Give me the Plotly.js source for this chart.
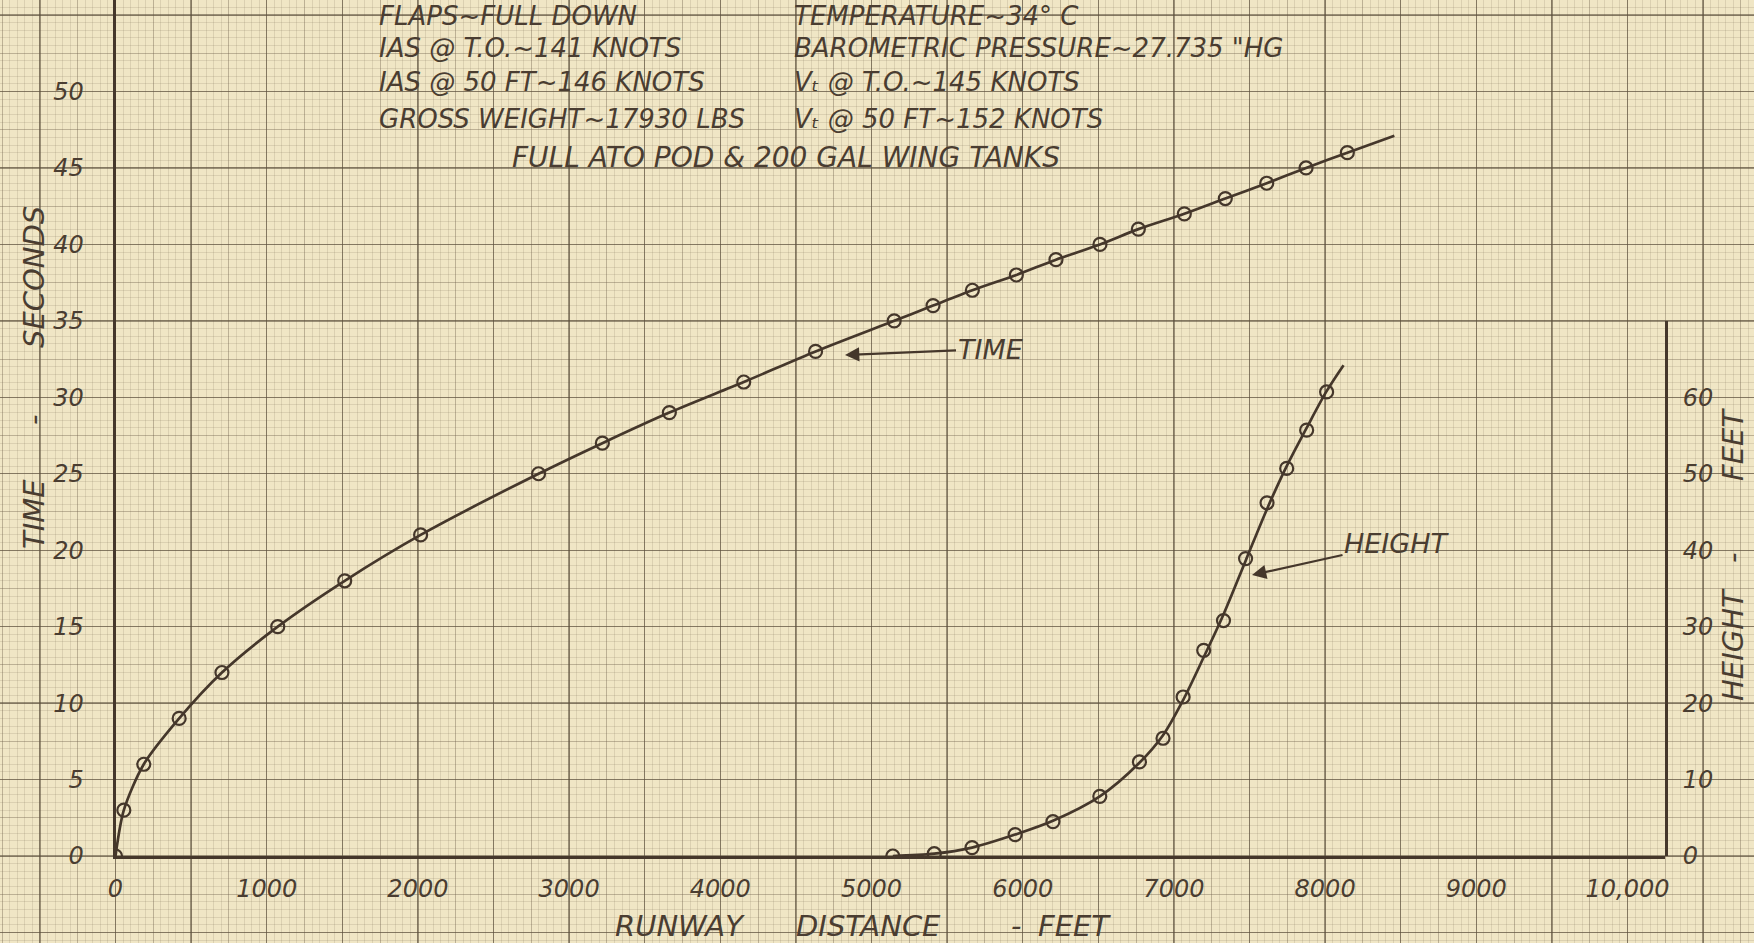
<!DOCTYPE html>
<html>
<head>
<meta charset="utf-8">
<script src="https://cdn.plot.ly/plotly-3.0.1.min.js"></script>
<style>html,body{margin:0;padding:0;background:#efe5c3;}</style>
</head>
<body>
<div id="chart" style="width:1754px;height:943px;"></div>
<script>
// ---- data ----
// plotted time points (runway distance ft, time s)
const timeDist = [0, 55, 187, 421, 704, 1073, 1516, 2018, 2798, 3220, 3663, 4155, 4630, 5150, 5407, 5667, 5958, 6220, 6511, 6765, 7069, 7340, 7614, 7874, 8147];
const timeSec  = [0, 3, 6, 9, 12, 15, 18, 21, 25, 27, 29, 31, 33, 35, 36, 37, 38, 39, 40, 41, 42, 43, 44, 45, 46];
// the drawn time curve runs a little past the last point
const timeCurveEndDist = [8458];
const timeCurveEndSec  = [47.1];

// plotted height points (runway distance ft, height ft)
const heightDist = [5141, 5415, 5665, 5950, 6200, 6510, 6772, 6928, 7061, 7197, 7328, 7474, 7616, 7746, 7878, 8010];
const heightFt   = [0, 0.3, 1.1, 2.8, 4.5, 7.8, 12.3, 15.4, 20.8, 26.9, 30.8, 38.9, 46.2, 50.7, 55.7, 60.7];
// the hand-faired height curve
const heightCurveDist = [5141, 5415, 5665, 5950, 6200, 6510, 6772, 6928, 7061, 7197, 7328, 7474, 7616, 7746, 7878, 8010, 8122];
const heightCurveFt   = [0, 0.3, 1.1, 2.8, 4.6, 7.8, 12.2, 15.8, 20.4, 26.0, 31.6, 38.6, 45.4, 51.0, 56.0, 60.8, 64.2];

const xTickVals = [0, 1000, 2000, 3000, 4000, 5000, 6000, 7000, 8000, 9000, 10000];
const xTickText = ['0', '1000', '2000', '3000', '4000', '5000', '6000', '7000', '8000', '9000', '10,000'];
const timeTicks = [0, 5, 10, 15, 20, 25, 30, 35, 40, 45, 50];
const heightTicks = [0, 10, 20, 30, 40, 50, 60];

const notesLeft  = ['FLAPS~FULL DOWN', 'IAS @ T.O.~141 KNOTS', 'IAS @ 50 FT~146 KNOTS', 'GROSS WEIGHT~17930 LBS'];
const notesRight = ['TEMPERATURE~34° C', 'BAROMETRIC PRESSURE~27.735 "HG', 'V\u209C @ T.O.~145 KNOTS', 'V\u209C @ 50 FT~152 KNOTS'];
const notesBottom = 'FULL ATO POD & 200 GAL WING TANKS';

// ---- styling / geometry ----
const W = 1754, H = 943;
const INK = '#45372b';
const TXT = '#4a3d31';
const PAPER = '#f0e6c5';
const FONT = 'DejaVu Sans, Liberation Sans, sans-serif';
const px = v => v / W;
const py = v => 1 - v / H;

// pixel geometry of the plotting frame
const X0 = 115.5, XR = 1665, Y0 = 856, YTOP = 0, Y2TOP = 321;
const PX_PER_FT = 0.1512, PX_PER_S = 15.29, PX_PER_HFT = PX_PER_S / 2;

const fine = 'rgba(130,115,90,0.19)';
const medium = 'rgba(110,96,74,0.40)';
const heavy = 'rgba(92,80,60,0.58)';

const bgXRange = [-X0 / PX_PER_FT, (W - X0) / PX_PER_FT];
const bgYRange = [(Y0 - H) / PX_PER_S, Y0 / PX_PER_S];

const traces = [
  {x: [], y: [], xaxis: 'x', yaxis: 'y', type: 'scatter', hoverinfo: 'skip'},
  {x: [], y: [], xaxis: 'x2', yaxis: 'y2', type: 'scatter', hoverinfo: 'skip'},
  // time curve
  {x: timeDist.concat(timeCurveEndDist), y: timeSec.concat(timeCurveEndSec), xaxis: 'x3', yaxis: 'y3',
   type: 'scatter', mode: 'lines', line: {color: INK, width: 2.7, shape: 'spline', smoothing: 0.8}, hoverinfo: 'skip'},
  {x: timeDist, y: timeSec, xaxis: 'x3', yaxis: 'y3', type: 'scatter', mode: 'markers',
   marker: {symbol: 'circle-open', size: 13, color: INK, line: {width: 2.2, color: INK}}},
  // height curve
  {x: heightCurveDist, y: heightCurveFt, xaxis: 'x3', yaxis: 'y4',
   type: 'scatter', mode: 'lines', line: {color: INK, width: 2.7, shape: 'spline', smoothing: 0.9}, hoverinfo: 'skip'},
  {x: heightDist, y: heightFt, xaxis: 'x3', yaxis: 'y4', type: 'scatter', mode: 'markers',
   marker: {symbol: 'circle-open', size: 13, color: INK, line: {width: 2.2, color: INK}}}
];

const tickFont = {family: FONT, size: 24, color: TXT, style: 'italic'};

const layout = {
  width: W, height: H,
  margin: {l: 0, r: 0, t: 0, b: 0, pad: 0},
  paper_bgcolor: PAPER, plot_bgcolor: 'rgba(0,0,0,0)',
  showlegend: false,
  // graph paper (fine + medium rulings)
  xaxis: {domain: [0, 1], range: bgXRange, anchor: 'y', showticklabels: false, ticks: '', zeroline: false,
          showgrid: true, tick0: 0, dtick: 250, gridcolor: medium, gridwidth: 1,
          minor: {tick0: 0, dtick: 50, showgrid: true, gridcolor: fine, gridwidth: 1}},
  yaxis: {domain: [0, 1], range: bgYRange, anchor: 'x', showticklabels: false, ticks: '', zeroline: false,
          showgrid: true, tick0: 0, dtick: 2.5, gridcolor: medium, gridwidth: 1,
          minor: {tick0: 0, dtick: 0.5, showgrid: true, gridcolor: fine, gridwidth: 1}},
  // graph paper (heavy rulings)
  xaxis2: {overlaying: 'x', range: bgXRange, anchor: 'y2', showticklabels: false, ticks: '', zeroline: false,
           showgrid: true, tick0: 0, dtick: 500, gridcolor: heavy, gridwidth: 1.3},
  yaxis2: {overlaying: 'y', range: bgYRange, anchor: 'x2', showticklabels: false, ticks: '', zeroline: false,
           showgrid: true, tick0: 0, dtick: 5, gridcolor: heavy, gridwidth: 1.3},
  // data frame
  xaxis3: {domain: [px(X0), px(XR)], range: [0, (XR - X0) / PX_PER_FT], anchor: 'y3',
           showgrid: false, zeroline: false, showline: true, linecolor: INK, linewidth: 3,
           tickmode: 'array', tickvals: xTickVals, ticktext: xTickText, ticks: '',
           ticklabelstandoff: 9, tickfont: tickFont},
  yaxis3: {domain: [py(Y0), py(YTOP)], range: [0, (Y0 - YTOP) / PX_PER_S], anchor: 'x3',
           showgrid: false, zeroline: false, showline: true, linecolor: INK, linewidth: 3,
           tickmode: 'array', tickvals: timeTicks, ticks: '', ticklabelstandoff: 24, tickfont: tickFont},
  yaxis4: {domain: [py(Y0), py(Y2TOP)], range: [0, (Y0 - Y2TOP) / PX_PER_HFT], anchor: 'x3', side: 'right',
           showgrid: false, zeroline: false, showline: true, linecolor: INK, linewidth: 3,
           tickmode: 'array', tickvals: heightTicks, ticks: '', ticklabelstandoff: 10, tickfont: tickFont},
  annotations: []
};

const noteFont = {family: FONT, size: 26, color: TXT, style: 'italic'};
const lineY = [16, 48, 82, 119];
notesLeft.forEach((t, i) => layout.annotations.push({text: t, xref: 'paper', yref: 'paper', x: px(377), y: py(lineY[i]),
  xanchor: 'left', yanchor: 'middle', showarrow: false, font: noteFont}));
notesRight.forEach((t, i) => layout.annotations.push({text: t, xref: 'paper', yref: 'paper', x: px(792), y: py(lineY[i]),
  xanchor: 'left', yanchor: 'middle', showarrow: false, font: noteFont}));
layout.annotations.push({text: notesBottom, xref: 'paper', yref: 'paper', x: px(786), y: py(157),
  xanchor: 'center', yanchor: 'middle', showarrow: false, font: {family: FONT, size: 28, color: TXT, style: 'italic'}});

const titleFont = {family: FONT, size: 29, color: TXT, style: 'italic'};
function label(t, x, y, angle) {
  layout.annotations.push({text: t, xref: 'paper', yref: 'paper', x: px(x), y: py(y), xanchor: 'center', yanchor: 'middle',
    showarrow: false, textangle: angle || 0, font: titleFont});
}
// left axis title
label('TIME', 34, 514, -90); label('-', 34, 420, -90); label('SECONDS', 34, 277, -90);
// right axis title
label('HEIGHT', 1733, 645, -90); label('-', 1733, 558, -90); label('FEET', 1733, 445, -90);
// bottom axis title
label('RUNWAY', 680, 926); label('DISTANCE', 868, 926); label('-', 1016, 926); label('FEET', 1074, 926);

// curve labels with arrows
const curveLabelFont = {family: FONT, size: 27, color: TXT, style: 'italic'};
layout.annotations.push({text: 'TIME', xref: 'paper', yref: 'paper', x: px(845), y: py(355), ax: 145, ay: -6,
  showarrow: true, arrowhead: 2, arrowsize: 1.3, arrowwidth: 2.2, arrowcolor: INK, font: curveLabelFont});
layout.annotations.push({text: 'HEIGHT', xref: 'paper', yref: 'paper', x: px(1252), y: py(575), ax: 145, ay: -32,
  showarrow: true, arrowhead: 2, arrowsize: 1.3, arrowwidth: 2.2, arrowcolor: INK, font: curveLabelFont});

Plotly.newPlot('chart', traces, layout, {staticPlot: true, displayModeBar: false});
</script>
</body>
</html>
